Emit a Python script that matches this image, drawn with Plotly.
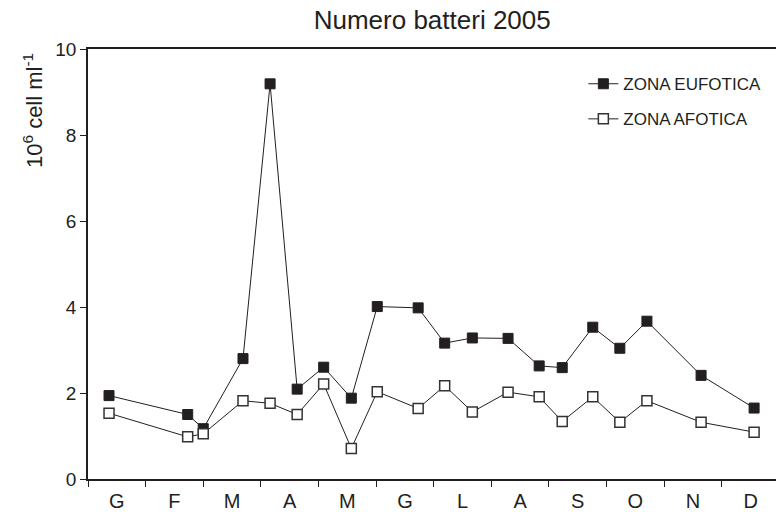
import plotly.graph_objects as go

months = ["G", "F", "M", "A", "M", "G", "L", "A", "S", "O", "N", "D"]
# sampling positions in month units (0 = start of January)
x_pos = [0.365, 1.73, 2.0, 2.69, 3.16, 3.63, 4.09, 4.57, 5.02, 5.73,
         6.19, 6.67, 7.29, 7.83, 8.23, 8.76, 9.23, 9.70, 10.64, 11.56]
eufotica = [1.94, 1.50, 1.17, 2.80, 9.19, 2.09, 2.60, 1.88, 4.01, 3.98,
            3.16, 3.28, 3.27, 2.63, 2.59, 3.53, 3.04, 3.67, 2.41, 1.65]
afotica = [1.53, 0.98, 1.05, 1.82, 1.76, 1.50, 2.21, 0.71, 2.03, 1.64,
           2.17, 1.56, 2.02, 1.91, 1.34, 1.91, 1.32, 1.82, 1.32, 1.09]

ink = "#231f20"
fig = go.Figure()
fig.add_trace(go.Scatter(
    x=x_pos, y=eufotica, mode="lines+markers", name="ZONA EUFOTICA",
    legendgroup="a",
    line=dict(color=ink, width=1),
    marker=dict(symbol="square", size=10, color=ink, line=dict(color=ink, width=1)),
))
fig.add_trace(go.Scatter(
    x=x_pos, y=afotica, mode="lines+markers", name="ZONA AFOTICA",
    legendgroup="b",
    line=dict(color=ink, width=1),
    marker=dict(symbol="square", size=10, color="white", line=dict(color="#333333", width=1.5)),
))

fig.update_layout(
    width=776, height=512,
    margin=dict(l=88, r=0, t=49, b=33, autoexpand=False),
    paper_bgcolor="white", plot_bgcolor="white",
    font=dict(family="Liberation Sans, Arial, sans-serif", color="#231f20", size=19),
    title=dict(text="Numero batteri 2005", x=0.557, xanchor="center", y=0.962, yanchor="middle",
               font=dict(size=26), automargin=False),
    legend=dict(x=0.72, y=0.96, xanchor="left", yanchor="top",
                font=dict(size=17), tracegroupgap=10, traceorder="grouped",
                bgcolor="rgba(0,0,0,0)"),
    showlegend=True,
    annotations=[dict(
        text="10<sup>6</sup> cell ml<sup>-1</sup>", textangle=-90,
        xref="paper", yref="paper", x=-0.08, y=0.858,
        xanchor="center", yanchor="middle", showarrow=False,
        font=dict(size=22),
    )],
)
fig.update_xaxes(
    range=[0, 11.94], showgrid=False, zeroline=False, automargin=False,
    showline=True, linecolor=ink, linewidth=1.5, mirror=True,
    tickmode="array", tickvals=[i + 0.5 for i in range(12)], ticktext=months,
    ticks="", ticklabelstandoff=3, tickfont=dict(size=20),
    minor=dict(tickmode="array", tickvals=list(range(13)), ticks="outside",
               ticklen=6, tickcolor=ink, tickwidth=1),
)
fig.update_yaxes(
    range=[0, 10], showgrid=False, zeroline=False, automargin=False,
    showline=True, linecolor=ink, linewidth=1.5,
    tickvals=[0, 2, 4, 6, 8, 10], ticks="outside", ticklen=6, tickcolor=ink,
    tickfont=dict(size=19),
)
fig.write_html("out.html")
